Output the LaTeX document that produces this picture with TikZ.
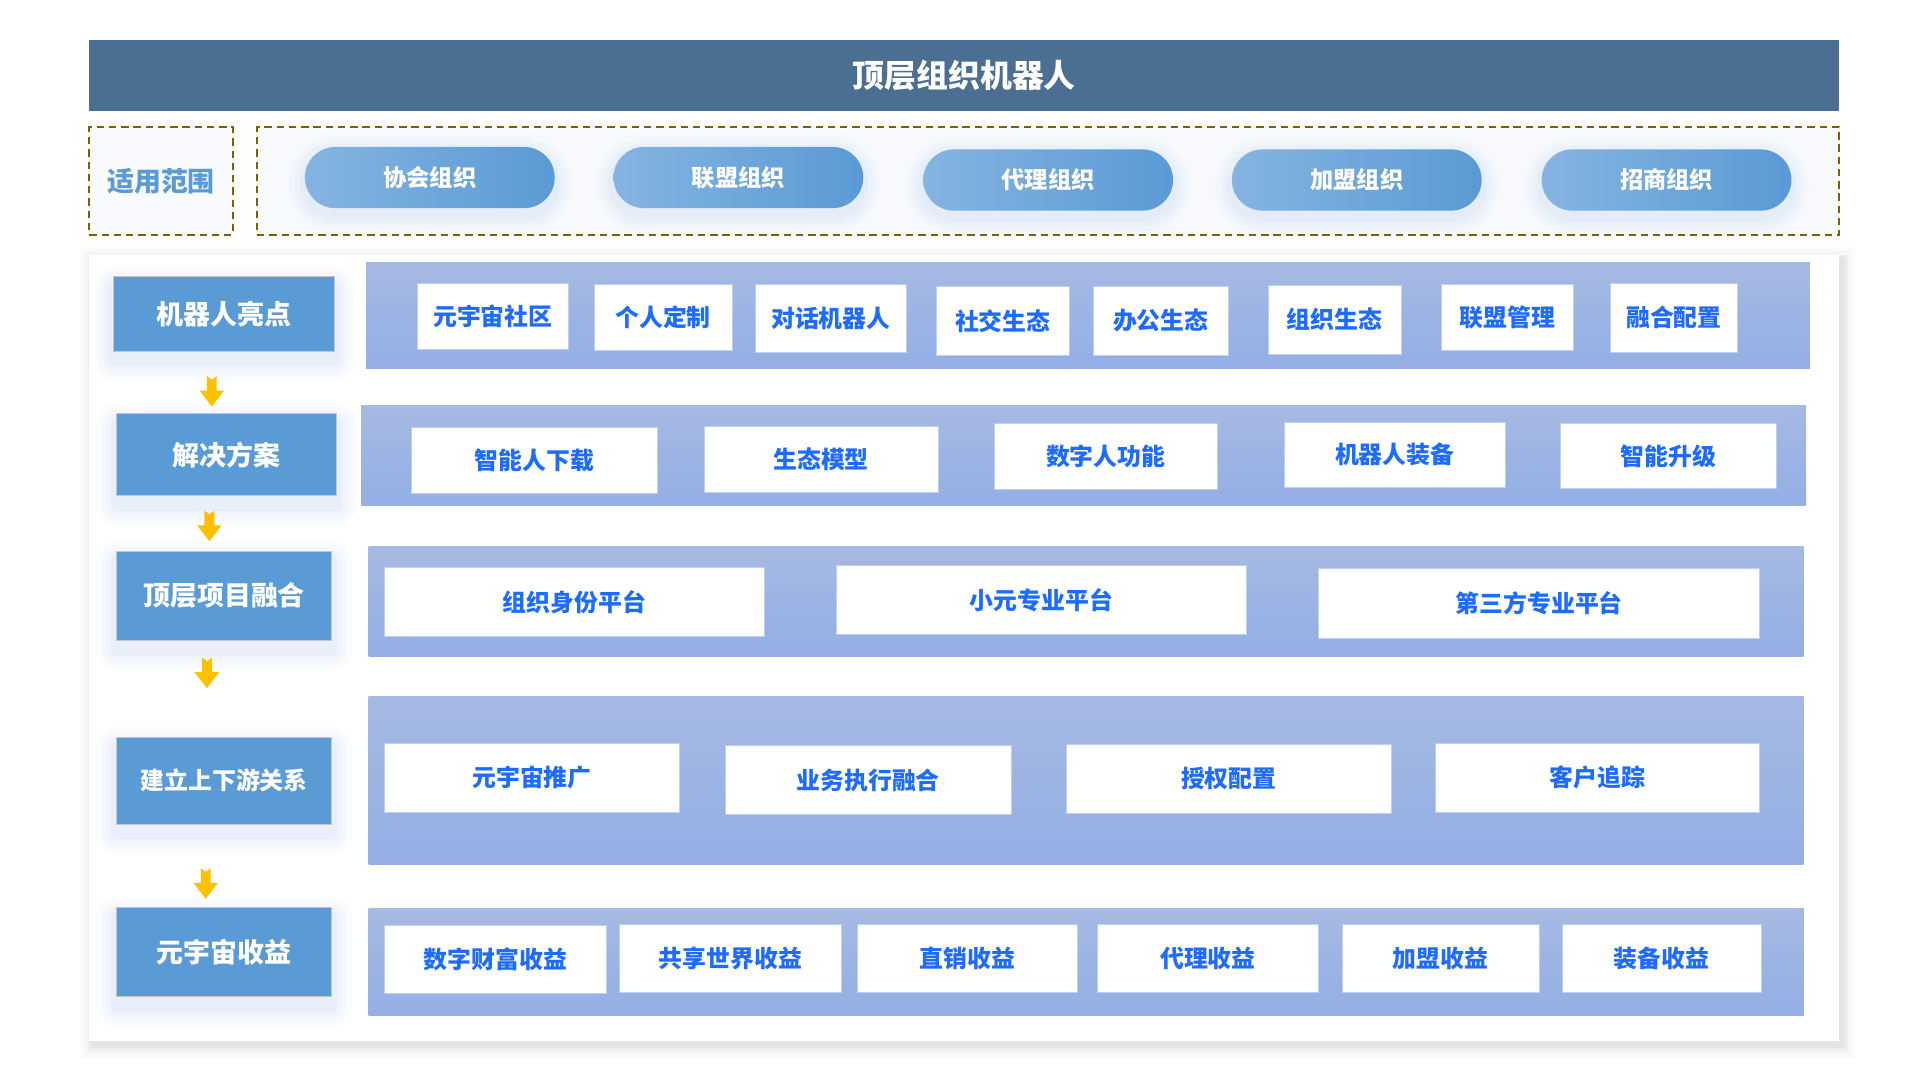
\documentclass[tikz,border=0pt]{standalone}
\usepackage{fontspec}
\newfontfamily\hb{Noto Sans CJK SC Black}
\usetikzlibrary{calc}
\pgfdeclarelayer{base}
\pgfdeclarelayer{glowl}
\pgfsetlayers{base,glowl,main}
\definecolor{hdr}{HTML}{4A6F92}
\definecolor{lbl}{HTML}{5B9BD5}
\definecolor{bandtop}{HTML}{A6B9E2}
\definecolor{bandbot}{HTML}{93AFE5}
\definecolor{btxt}{HTML}{1E6BFF}
\definecolor{pillL}{HTML}{85B4E1}
\definecolor{pillR}{HTML}{5A9AD5}
\definecolor{dashc}{HTML}{7F6000}
\definecolor{arrc}{HTML}{FFC000}
\definecolor{softbg}{HTML}{F8FAFD}
\definecolor{glowc}{HTML}{7FA6E8}
\tikzset{
  hdrbox/.style={fill=hdr, text=white, inner sep=0pt, font=\hb\fontsize{26}{28}\selectfont},
  dashbox/.style={draw=dashc, line width=1.6pt, dash pattern=on 6pt off 4pt, fill=softbg},
  pill/.style={rounded corners=25pt, left color=pillL, right color=pillR, text=white, inner sep=0pt,
    minimum width=204pt, minimum height=50pt, font=\hb\fontsize{19}{21}\selectfont},
  lblbox/.style={fill=lbl, draw=black!22, line width=0.8pt, text=white, inner sep=0pt,
    font=\hb\fontsize{22}{24}\selectfont},
  band/.style={top color=bandtop, bottom color=bandbot, inner sep=0pt},
  wbox/.style={fill=white, draw=bandbot!60, line width=0.5pt, text=btxt, inner sep=0pt,
    font=\hb\fontsize{19.5}{21}\selectfont},
  panel/.style={fill=white, inner sep=0pt},
  scopetxt/.style={text=lbl, inner sep=0pt, font=\hb\fontsize{22}{24}\selectfont},
}
\newcommand\bx[6]{\node[wbox, minimum width=#4pt, minimum height=#5pt] (#1) at (#2,#3) {#6};}
\newcommand\yarr[1]{\fill[arrc] ($(#1)+(-4,0)$) -- ($(#1)+(0,3)$) -- ($(#1)+(4,0)$) -- ($(#1)+(4,12)$) -- ($(#1)+(10,12)$) -- ($(#1)+(0,25)$) -- ($(#1)+(-10,12)$) -- ($(#1)+(-4,12)$) -- cycle;}
% #1 node, #2 y shift, #3 colour, #4 base rounding
\newcommand\glow[4]{%
  \begin{pgfonlayer}{glowl}
  \foreach \s/\o in {16/0.025,12/0.035,8/0.045,4/0.06}{%
    \fill[#3, opacity=\o, rounded corners=#4+\s]
      ($(#1.north west)+(-\s,-\s+#2)$) rectangle ($(#1.south east)+(\s,\s+#2)$);}
  \end{pgfonlayer}}
\begin{document}
\begin{tikzpicture}[x=1pt, y=-1pt]
\useasboundingbox (0,0) rectangle (1568,882);
\begin{pgfonlayer}{base}
\fill[white] (0,0) rectangle (1568,882);
\end{pgfonlayer}
% header
\node[hdrbox, minimum width=1429pt, minimum height=58pt] (title) at (787.5,62) {顶层组织机器人};
% scope row
\begin{pgfonlayer}{base}
\node[dashbox, minimum width=117pt, minimum height=88pt, inner sep=0pt] (scopebox) at (131.5,148) {};
\node[dashbox, minimum width=1292pt, minimum height=88pt, inner sep=0pt] (orgbox) at (856,148) {};
% panel shadow and panel
\foreach \s/\o in {10/0.015,7/0.02,4/0.03,2/0.04}{%
  \fill[black, opacity=\o] ($(73,208)+(-\s+3,-\s+4)$) rectangle ($(1502,850)+(\s+3,\s+4)$);}
\node[panel, minimum width=1429pt, minimum height=642pt] (panel) at (787.5,529) {};
\end{pgfonlayer}
\node[scopetxt] (scope) at (131.5,148) {适用范围};
\node[pill] (p1) at (351,145) {协会组织};
\node[pill] (p2) at (603,145) {联盟组织};
\node[pill] (p3) at (856,147) {代理组织};
\node[pill] (p4) at (1108,147) {加盟组织};
\node[pill] (p5) at (1361,147) {招商组织};
\glow{p1}{5}{glowc}{25}\glow{p2}{5}{glowc}{25}\glow{p3}{5}{glowc}{25}\glow{p4}{5}{glowc}{25}\glow{p5}{5}{glowc}{25}
% bands
\node[band, minimum width=1179pt, minimum height=87pt] (b1) at (888.5,257.5) {};
\node[band, minimum width=1180pt, minimum height=82pt] (b2) at (885,372) {};
\node[band, minimum width=1172pt, minimum height=90pt] (b3) at (887,491) {};
\node[band, minimum width=1172pt, minimum height=137pt] (b4) at (887,637.5) {};
\node[band, minimum width=1172pt, minimum height=87pt] (b5) at (887,785.5) {};
% left labels
\node[lblbox, minimum width=180pt, minimum height=61pt] (l1) at (183,256.5) {机器人亮点};
\node[lblbox, minimum width=180pt, minimum height=67pt] (l2) at (185,371.5) {解决方案};
\node[lblbox, minimum width=176pt, minimum height=73pt] (l3) at (183,486.5) {顶层项目融合};
\node[lblbox, minimum width=176pt, minimum height=71pt, font=\hb\fontsize{19.5}{21}\selectfont] (l4) at (183,637.5) {建立上下游关系};
\node[lblbox, minimum width=176pt, minimum height=73pt] (l5) at (183,777.5) {元宇宙收益};
\glow{l1}{8}{glowc}{0}\glow{l2}{8}{glowc}{0}\glow{l3}{8}{glowc}{0}\glow{l4}{8}{glowc}{0}\glow{l5}{8}{glowc}{0}
% arrows
\coordinate (a1) at (173,307);
\coordinate (a2) at (171,417);
\coordinate (a3) at (169,537);
\coordinate (a4) at (168,709);
\yarr{a1}\yarr{a2}\yarr{a3}\yarr{a4}
% row 1
\bx{r11}{402.5}{258}{123}{54}{元宇宙社区}
\bx{r12}{541.5}{259}{113}{54}{个人定制}
\bx{r13}{678.5}{260}{123}{56}{对话机器人}
\bx{r14}{819}{262}{108}{56}{社交生态}
\bx{r15}{948}{262}{110}{56}{办公生态}
\bx{r16}{1090}{261}{108}{56}{组织生态}
\bx{r17}{1231}{259}{108}{54}{联盟管理}
\bx{r18}{1367}{259.5}{104}{57}{融合配置}
% row 2
\bx{r21}{436.5}{376}{201}{54}{智能人下载}
\bx{r22}{670.5}{375}{191}{54}{生态模型}
\bx{r23}{903}{373}{182}{54}{数字人功能}
\bx{r24}{1139}{371.5}{180}{53}{机器人装备}
\bx{r25}{1362.5}{372.5}{177}{53}{智能升级}
% row 3
\bx{r31}{469}{491.5}{310}{57}{组织身份平台}
\bx{r32}{850.5}{490}{335}{56}{小元专业平台}
\bx{r33}{1257}{492.5}{360}{57}{第三方专业平台}
% row 4
\bx{r41}{434.5}{635}{241}{56}{元宇宙推广}
\bx{r42}{709}{637}{234}{56}{业务执行融合}
\bx{r43}{1003.5}{636}{265}{56}{授权配置}
\bx{r44}{1304.5}{635}{265}{56}{客户追踪}
% row 5
\bx{r51}{404.5}{783.5}{181}{55}{数字财富收益}
\bx{r52}{596.5}{782.5}{181}{55}{共享世界收益}
\bx{r53}{790}{782.5}{180}{55}{直销收益}
\bx{r54}{986.5}{782.5}{181}{55}{代理收益}
\bx{r55}{1176.5}{782.5}{161}{55}{加盟收益}
\bx{r56}{1357}{782.5}{162}{55}{装备收益}
\end{tikzpicture}
\end{document}
